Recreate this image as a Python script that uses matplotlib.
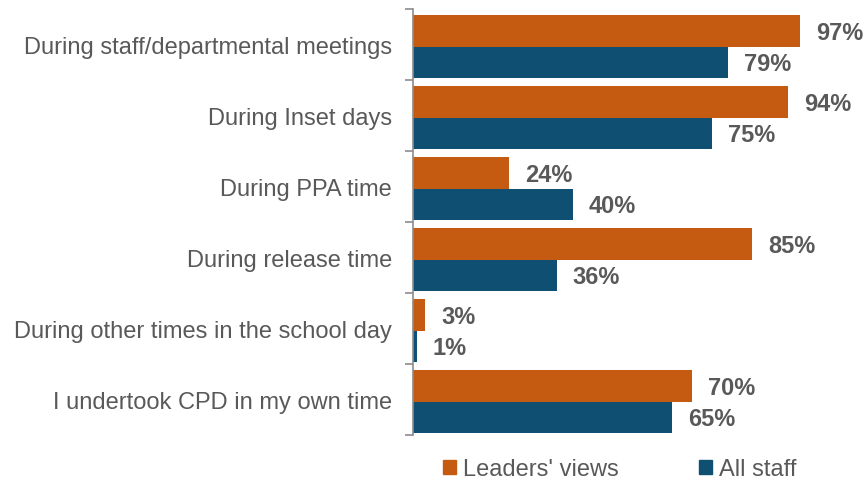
import numpy as np
import matplotlib.pyplot as plt
from matplotlib.patches import Patch

plt.rcParams['font.family'] = ['Liberation Sans', 'DejaVu Sans']

categories = ["During staff/departmental meetings", "During Inset days", "During PPA time",
              "During release time", "During other times in the school day",
              "I undertook CPD in my own time"]
leaders = [97, 94, 24, 85, 3, 70]
staff = [79, 75, 40, 36, 1, 65]

orange = '#C55A11'
blue = '#0F4F72'
grey = '#595959'

fig = plt.figure(figsize=(8.64, 4.81), dpi=100)
ax = fig.add_axes([413/864, 1-436/481, (812-413)/864, (436-10)/481])

y = np.arange(len(categories))
h = 0.44
ax.barh(y - h/2 + 0.03, leaders, height=h, color=orange, label="Leaders' views")
ax.barh(y + h/2 + 0.03, staff, height=h, color=blue, label="All staff")

for i in range(len(categories)):
    ax.text(leaders[i] + 4, y[i] - h/2 + 0.05, f"{leaders[i]}%", va='center', ha='left',
            fontsize=17, fontweight='bold', color=grey)
    ax.text(staff[i] + 4, y[i] + h/2 + 0.05, f"{staff[i]}%", va='center', ha='left',
            fontsize=17, fontweight='bold', color=grey)

ax.set_xlim(0, 100)
ax.set_ylim(len(categories) - 0.5, -0.5)
ax.set_yticks(y)
ax.set_yticklabels(categories, fontsize=17, color=grey)
ax.set_yticks(np.arange(len(categories) + 1) - 0.5, minor=True)
ax.tick_params(axis='y', which='major', length=0, pad=15)
ax.tick_params(axis='y', which='minor', length=6, width=1.2, color='#8c8c8c')
ax.set_xticks([])
for s in ['top', 'right', 'bottom']:
    ax.spines[s].set_visible(False)
ax.spines['left'].set_color('#8c8c8c')
ax.spines['left'].set_linewidth(1.2)

handles = [Patch(color=orange, label="Leaders' views"), Patch(color=blue, label="All staff")]
fig.legend(handles=handles, loc='center left', bbox_to_anchor=(422/864, 1-470/481), ncol=2,
           frameon=False, fontsize=17, handlelength=0.55, handleheight=0.55, handletextpad=0.3,
           columnspacing=3.4, labelcolor=grey)

fig.savefig('out.png', dpi=100)
